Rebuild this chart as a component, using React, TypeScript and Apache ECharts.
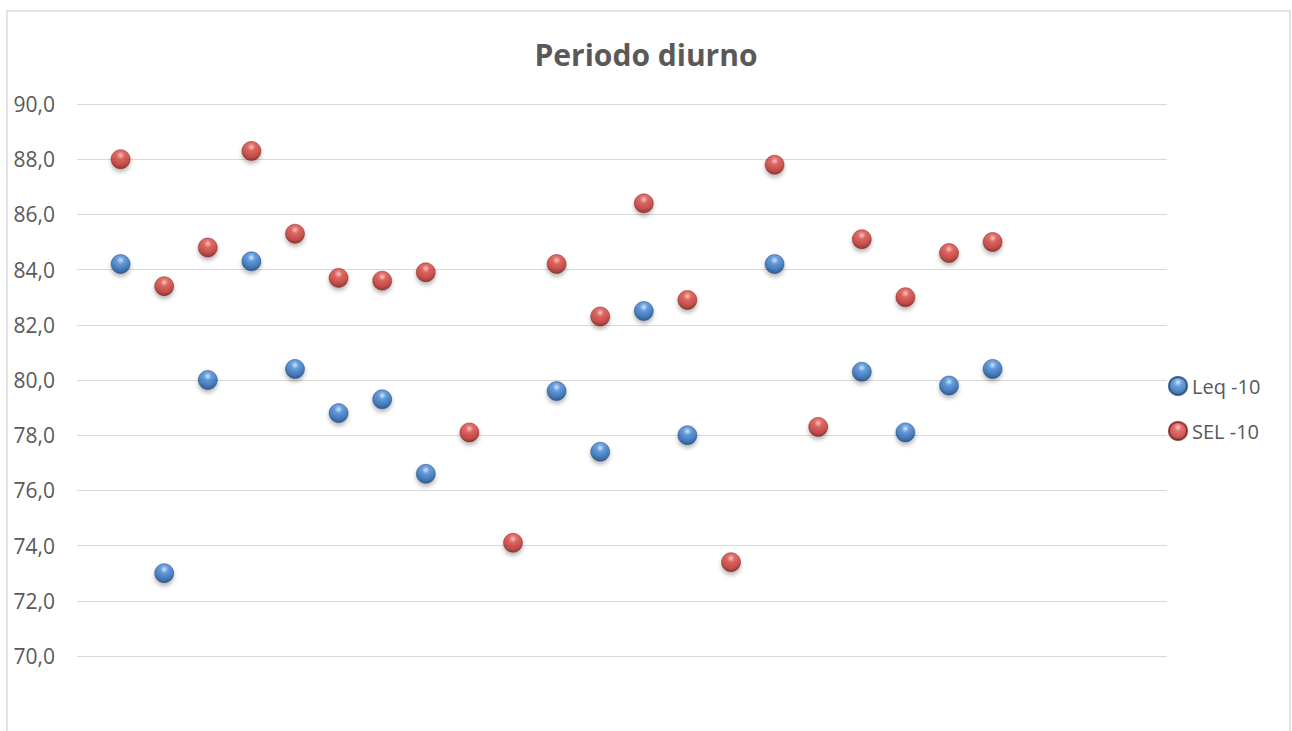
import React, { useEffect, useRef } from "react";
import * as echarts from "echarts";

const positions = [1, 2, 3, 4, 5, 6, 7, 8, 9, 10, 11, 12, 13, 14, 15, 16, 17, 18, 19, 20, 21];
const leq: (number | null)[] = [84.2, 73.0, 80.0, 84.3, 80.4, 78.8, 79.3, 76.6, null, null, 79.6, 77.4, 82.5, 78.0, null, 84.2, null, 80.3, 78.1, 79.8, 80.4];
const sel: (number | null)[] = [88.0, 83.4, 84.8, 88.3, 85.3, 83.7, 83.6, 83.9, 78.1, 74.1, 84.2, 82.3, 86.4, 82.9, 73.4, 87.8, 78.3, 85.1, 83.0, 84.6, 85.0];
const seriesNames = ["Leq -10", "SEL -10"];
const titleText = "Periodo diurno";

const FONT = "'Open Sans', 'Noto Sans', sans-serif";
const TEXT_COLOR = "#595959";

function ball(light: string, mid: string, main: string, dark: string) {
  return {
    type: "radial",
    x: 0.5,
    y: 0.3,
    r: 0.72,
    colorStops: [
      { offset: 0, color: light },
      { offset: 0.28, color: mid },
      { offset: 0.7, color: main },
      { offset: 1, color: dark },
    ],
  };
}

const blueBall = ball("#cfe6ff", "#4a8ddb", "#2566b4", "#143c6e");
const redBall = ball("#ffc2bf", "#de4d48", "#c0302c", "#761614");

function pairs(vals: (number | null)[]) {
  return positions
    .map((p, i) => (vals[i] == null ? null : [p, vals[i]]))
    .filter((d) => d !== null);
}

export default function App() {
  const ref = useRef<HTMLDivElement>(null);
  useEffect(() => {
    if (!ref.current) return;
    const chart = echarts.init(ref.current, undefined, { renderer: "svg" });
    const itemBase = {
      shadowBlur: 4,
      shadowOffsetY: 3,
      shadowColor: "rgba(0,0,0,0.35)",
      borderWidth: 0.6,
    };
    chart.setOption({
      animation: false,
      backgroundColor: "#ffffff",
      title: {
        text: titleText,
        left: "center",
        top: 39,
        padding: 0,
        textStyle: { fontFamily: FONT, fontSize: 30, fontWeight: "bold", color: TEXT_COLOR },
      },
      graphic: [
        {
          type: "rect",
          z: -10,
          silent: true,
          shape: { x: 7, y: 11, width: 1283, height: 740 },
          style: { fill: "none", stroke: "#d9d9d9", lineWidth: 1.5 },
        },
      ],
      legend: {
        orient: "vertical",
        left: 1168,
        top: 376,
        padding: 0,
        itemWidth: 18,
        itemHeight: 18,
        itemGap: 25,
        icon: "circle",
        textStyle: { fontFamily: FONT, fontSize: 20, color: TEXT_COLOR },
        data: seriesNames,
      },
      grid: { left: 77, right: 125, top: 104, bottom: 75, containLabel: false },
      xAxis: {
        type: "value",
        min: 0,
        max: 25,
        show: false,
      },
      yAxis: {
        type: "value",
        min: 70,
        max: 90,
        interval: 2,
        axisLine: { show: false },
        axisTick: { show: false },
        axisLabel: {
          fontFamily: FONT,
          fontSize: 21,
          color: TEXT_COLOR,
          margin: 22,
          formatter: (v: number) => v.toFixed(1).replace(".", ","),
        },
        splitLine: { lineStyle: { color: "#d9d9d9", width: 1.2 } },
      },
      series: [
        {
          name: seriesNames[0],
          type: "scatter",
          symbol: "circle",
          symbolSize: 19,
          data: pairs(leq),
          itemStyle: { ...itemBase, color: blueBall, borderColor: "#1c4679" },
        },
        {
          name: seriesNames[1],
          type: "scatter",
          symbol: "circle",
          symbolSize: 19,
          data: pairs(sel),
          itemStyle: { ...itemBase, color: redBall, borderColor: "#7e1d1b" },
        },
      ],
    });
    return () => chart.dispose();
  }, []);
  return (
    <div
      ref={ref}
      style={{ position: "absolute", left: 0, top: 0, width: 1292, height: 731 }}
    />
  );
}
